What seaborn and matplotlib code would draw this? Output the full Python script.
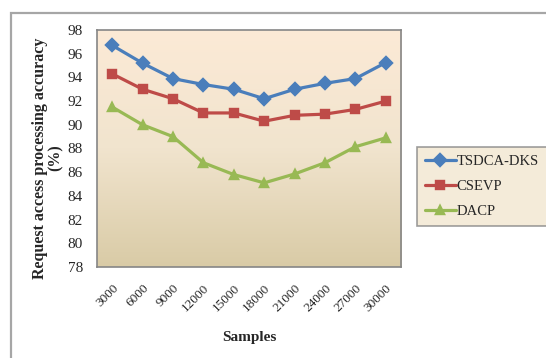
import numpy as np
import pandas as pd
import matplotlib
matplotlib.use("Agg")
import matplotlib.pyplot as plt
from matplotlib.patches import Rectangle
from matplotlib.colors import LinearSegmentedColormap
import seaborn as sns

# Data
samples = ["3000", "6000", "9000", "12000", "15000", "18000",
           "21000", "24000", "27000", "30000"]
tsdca_dks = [96.7, 95.2, 93.9, 93.4, 93.0, 92.2, 93.0, 93.5, 93.9, 95.25]
csevp = [94.3, 93.0, 92.2, 91.0, 91.0, 90.3, 90.8, 90.9, 91.3, 92.0]
dacp = [91.5, 90.0, 89.0, 86.8, 85.8, 85.1, 85.85, 86.8, 88.15, 88.9]
series_names = ["TSDCA-DKS", "CSEVP", "DACP"]
y_ticks = list(range(78, 99, 2))

df = pd.DataFrame({
    "Samples": samples * 3,
    "Accuracy": tsdca_dks + csevp + dacp,
    "Method": np.repeat(series_names, len(samples)),
})

colors = ["#4A7EBB", "#BE4B48", "#98B954"]
markers = ["D", "s", "^"]

sns.set_theme(style="white")
plt.rcParams["font.family"] = ["Liberation Serif", "DejaVu Serif"]

W, H = 546, 358
fig = plt.figure(figsize=(W / 100, H / 100), dpi=100)

# Outer chart frame
fig.patches.append(Rectangle((11 / W, -0.05), 1.2, (H - 13) / H + 0.05,
                             transform=fig.transFigure, fill=False,
                             edgecolor="#A6A6A6", linewidth=1.6, zorder=0))

ax = fig.add_axes([97 / W, (H - 267) / H, 304 / W, 237 / H])
ax.set_facecolor("none")

# Vertical gradient background of the plot area (light at top, tan at bottom)
grad = LinearSegmentedColormap.from_list("bg", ["#FCEAD6", "#F1E4CE", "#D9CBA6"])
ax.imshow(np.linspace(0, 1, 256).reshape(-1, 1), cmap=grad, aspect="auto",
          extent=[0, 1, 0, 1], origin="upper", transform=ax.transAxes, zorder=0)

sns.pointplot(data=df, x="Samples", y="Accuracy", hue="Method",
              palette=colors, markers=markers, linestyles="-",
              order=samples, hue_order=series_names, errorbar=None,
              markersize=6, linewidth=2.3, ax=ax, zorder=3)

ax.set_xlim(-0.5, len(samples) - 0.5)
ax.set_ylim(78, 98)
ax.set_yticks(y_ticks)
ax.set_yticklabels([str(t) for t in y_ticks], fontsize=11)
ax.set_xticks(range(len(samples)))
ax.set_xticklabels(samples, fontsize=9.5, rotation=45, ha="right",
                   rotation_mode="anchor")
ax.tick_params(axis="y", length=0, pad=10)
ax.tick_params(axis="x", length=0, pad=11)
for s in ax.spines.values():
    s.set_color("#868686")
    s.set_linewidth(1.2)

ax.set_xlabel("Samples", fontsize=11, fontweight="bold", labelpad=12)
ax.set_ylabel("Request access processing accuracy\n(%)", fontsize=11.5,
              fontweight="bold", linespacing=1.0)
ax.yaxis.set_label_coords(-0.11, 0.46)

handles, labels = ax.get_legend_handles_labels()
leg = ax.legend(handles, labels, loc="upper left",
                bbox_to_anchor=(417 / W, (H - 147) / H),
                bbox_transform=fig.transFigure, frameon=True, fancybox=False,
                fontsize=10.5, handlelength=2.1, handletextpad=0.05,
                labelspacing=0.8, borderpad=0.55, borderaxespad=0)
frame = leg.get_frame()
frame.set_facecolor("#F2E6D0")
frame.set_edgecolor("#868686")
frame.set_linewidth(1.2)

fig.savefig("out.png", dpi=100)
